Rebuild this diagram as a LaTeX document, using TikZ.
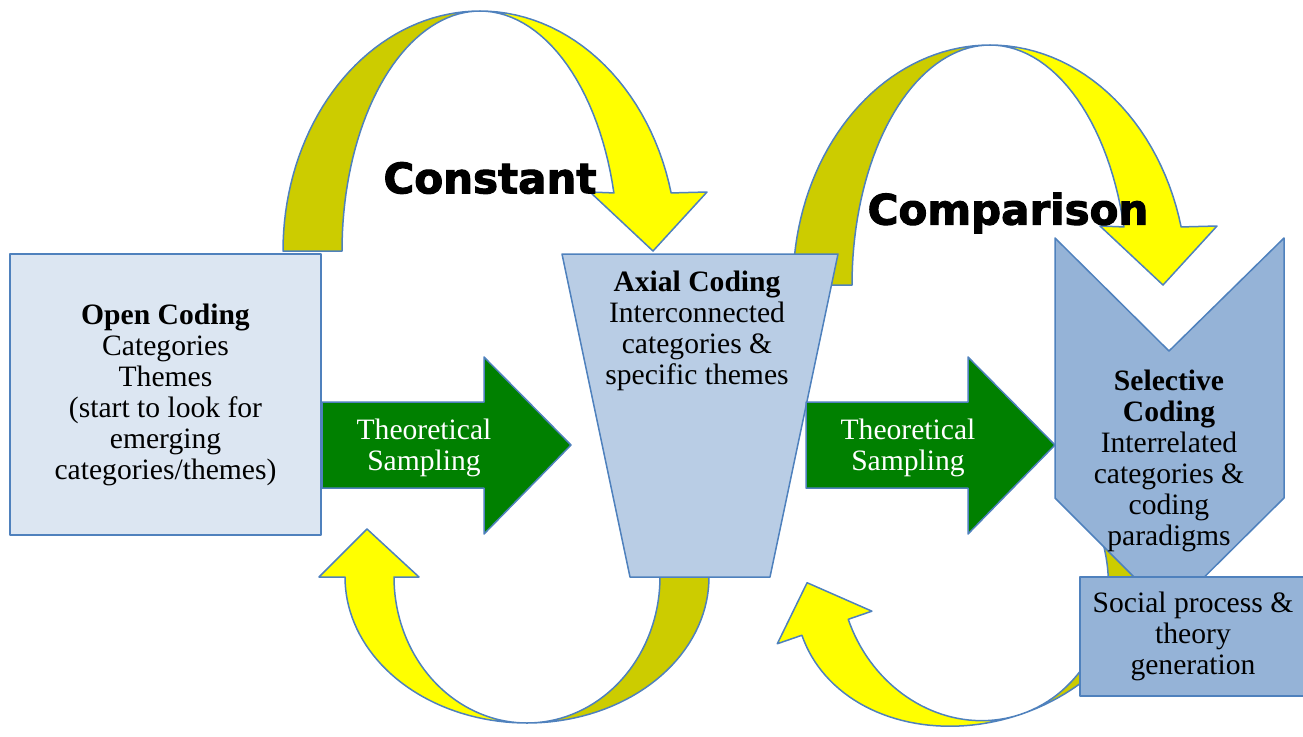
\documentclass[tikz,border=0pt]{standalone}
\usepackage{fontspec}
\setmainfont{Liberation Serif}
\newfontfamily\heavyfont{DejaVu Sans}[FakeBold=2.5]
\definecolor{frame}{HTML}{4F81BD}
\definecolor{openfill}{HTML}{DCE6F2}
\definecolor{axialfill}{HTML}{B9CDE5}
\definecolor{selfill}{HTML}{95B3D7}
\definecolor{samplegreen}{HTML}{008000}
\definecolor{brightyellow}{HTML}{FFFF00}
\definecolor{darkyellow}{HTML}{CCCC00}
\begin{document}
\begin{tikzpicture}[x=0.5pt,y=-0.5pt,
  outline/.style={draw=frame,line width=0.75pt,line join=round},
  box/.style={outline,rectangle,align=center,inner sep=0pt},
  label/.style={align=center,font=\fontsize{14.8}{15.5}\selectfont},
  bigword/.style={font=\heavyfont\bfseries\fontsize{21}{24}\selectfont}]
\useasboundingbox (0,0) rectangle (1303,736);
\def\ro{197} % top arrows, outer radius
\def\ri{138} % top arrows, inner radius
\def\rh{240} % top arrows, height
\def\bo{182} % bottom arrows, outer radius
\def\bi{133} % bottom arrows, inner radius
\def\bh{146} % bottom arrows, depth
% yellow loops above
\foreach \cx/\cy in {480/251,990/285}{
\begin{scope}[shift={(\cx,\cy)}]
\filldraw[outline,fill=darkyellow] plot[domain=180:270,samples=40] ({\ro*cos(\x)},{\rh*sin(\x)})
  -- plot[domain=270:180,samples=40] ({\ri*cos(\x)},{\rh*sin(\x)}) -- cycle;
\filldraw[outline,fill=brightyellow] plot[domain=270:346,samples=30] ({\ro*cos(\x)},{\rh*sin(\x)})
  -- (227,-59) -- (173,0) -- (110,-59)
  -- plot[domain=346:270,samples=30] ({\ri*cos(\x)},{\rh*sin(\x)}) -- cycle;
\end{scope}}
% yellow loops below
\foreach \cx/\cy/\rot in {527/577/0,974/576/19}{
\begin{scope}[shift={(\cx,\cy)},rotate=\rot]
\filldraw[outline,fill=darkyellow] plot[domain=90:-8,samples=40] ({\bo*cos(\x)},{\bh*sin(\x)})
  -- plot[domain=-8:90,samples=40] ({\bi*cos(\x)},{\bh*sin(\x)}) -- cycle;
\filldraw[outline,fill=brightyellow] plot[domain=180:90,samples=40] ({\bo*cos(\x)},{\bh*sin(\x)})
  -- plot[domain=90:180,samples=40] ({\bi*cos(\x)},{\bh*sin(\x)})
  -- (-108,0) -- (-160,-48) -- (-208,0) -- cycle;
\end{scope}}
% coding stages
\node (open) [box,fill=openfill,minimum width=155.5pt,minimum height=140.5pt,label] at (165.5,394.5)
  {\textbf{Open Coding}\\Categories\\Themes\\(start to look for\\emerging\\categories/themes)};
\filldraw[outline,fill=axialfill] (562,254) -- (838,254) -- (770,577) -- (630,577) -- cycle;
\node (axial) [label] at (697,331) {\textbf{Axial Coding}\\Interconnected\\categories \&\\specific themes};
\filldraw[outline,fill=selfill] (1055,238) -- (1169,351) -- (1284,238) -- (1284,498) -- (1169,612) -- (1055,498) -- cycle;
\node (selective) [label] at (1169,461) {\textbf{Selective}\\\textbf{Coding}\\Interrelated\\categories \&\\coding\\paradigms};
\node (social) [box,fill=selfill,minimum width=113pt,minimum height=59.5pt,label] at (1193,636.5)
  {Social process \&\\theory\\generation};
% theoretical sampling
\foreach \sx/\nm in {0/sampleA,484/sampleB}{
\begin{scope}[xshift=\sx*0.5pt]
\filldraw[outline,fill=samplegreen] (322,402) -- (484,402) -- (484,357) -- (571,445) -- (484,534) -- (484,488) -- (322,488) -- cycle;
\node (\nm) [label,text=white] at (424,448) {Theoretical\\Sampling};
\end{scope}}
\node (constant) [bigword] at (490,178) {Constant};
\node (comparison) [bigword] at (1008,213) {Comparison};
\end{tikzpicture}
\end{document}
